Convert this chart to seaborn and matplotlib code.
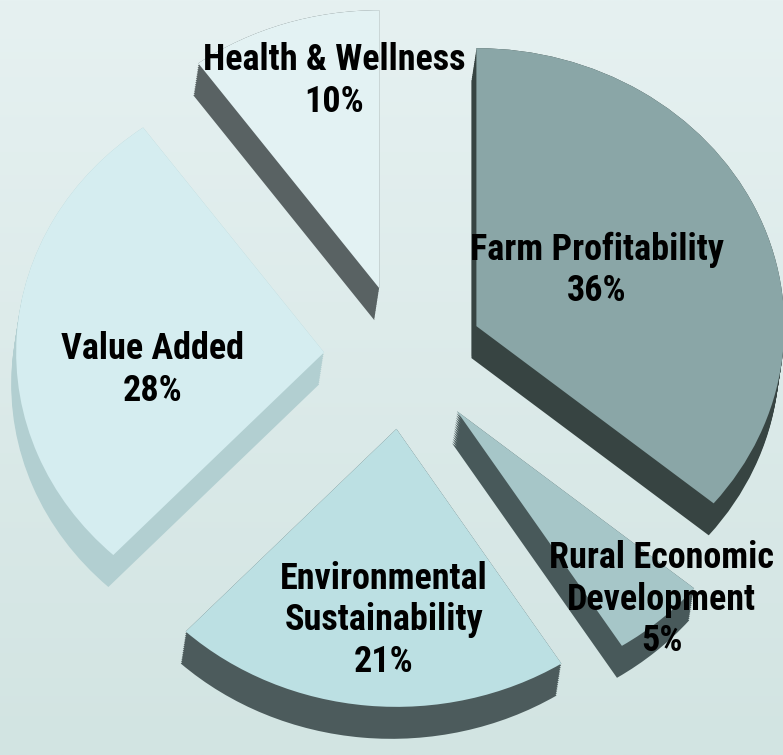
import numpy as np
import seaborn as sns
import matplotlib.pyplot as plt
from matplotlib import font_manager
from matplotlib.colors import LinearSegmentedColormap

# data
categories = ["Farm Profitability", "Rural Economic\nDevelopment", "Environmental\nSustainability",
              "Value Added", "Health & Wellness"]
shares = [36, 5, 21, 28, 10]

# colours of the top face and of the side (extrusion) of each slice
top_colors = ["#8AA6A7", "#A6C6C8", "#BCE0E3", "#D5EDF0", "#E3F2F3"]
side_colors = ["#374442", "#48595A", "#4C5B5C", "#B2CFD1", "#596263"]

# label placement tweaks (fraction of radius, degrees)
label_r = [0.44, 0.95, 0.69, 0.56, 0.76]
label_dt = [2, 3, 2, 10, -7]

sns.set_theme(style="white")

# look for a bold narrow sans font, fall back to Liberation Sans
bold_narrow = sorted({f.name for f in font_manager.fontManager.ttflist
                      if ("Narrow" in f.name or "Condensed" in f.name)
                      and (f.weight == "bold" or (isinstance(f.weight, int) and f.weight >= 600))})
pref = [n for n in bold_narrow if "Liberation" in n or "Roboto" in n] + bold_narrow
font = pref[0] if pref else "Liberation Sans"
plt.rcParams['font.family'] = [font, 'DejaVu Sans']
narrow = bool(pref)

fig = plt.figure(figsize=(7.83, 7.55), dpi=100)
ax = fig.add_axes([0, 0, 1, 1])

explode = [0.26] * len(shares)
depth = (-0.016, -0.115)

# extrusion: stacked copies of the pie, shifted down
for k in np.linspace(1, 0, 16):
    ax.pie(shares, explode=explode, colors=side_colors, startangle=90, counterclock=False,
           center=(depth[0] * k, depth[1] * k), wedgeprops=dict(linewidth=0))

wedges, _ = ax.pie(shares, explode=explode, colors=top_colors, startangle=90, counterclock=False,
                   wedgeprops=dict(linewidth=0))

for w, lab, v, r, dt in zip(wedges, categories, shares, label_r, label_dt):
    th = np.deg2rad((w.theta1 + w.theta2) / 2 + dt)
    cx, cy = w.center
    ax.text(cx + r * np.cos(th), cy + r * np.sin(th), f"{lab}\n{v}%",
            ha="center", va="center", fontsize=26 if narrow else 21, fontweight="bold",
            color="black", linespacing=1.2 if narrow else 1.35, zorder=5)

x0, x1 = -1.312, 1.231
y0, y1 = -1.432, 1.284

# soft background gradient
bg = LinearSegmentedColormap.from_list("bg", ["#D2E4E2", "#E6F1F1"])
grad = np.linspace(0, 1, 256).reshape(-1, 1)
ax.imshow(grad, extent=[x0, x1, y0, y1], origin="lower", cmap=bg, aspect="auto", zorder=-10)

ax.set_aspect("auto")
ax.set_xlim(x0, x1)
ax.set_ylim(y0, y1)
ax.axis("off")

fig.savefig("out.png", dpi=100)
